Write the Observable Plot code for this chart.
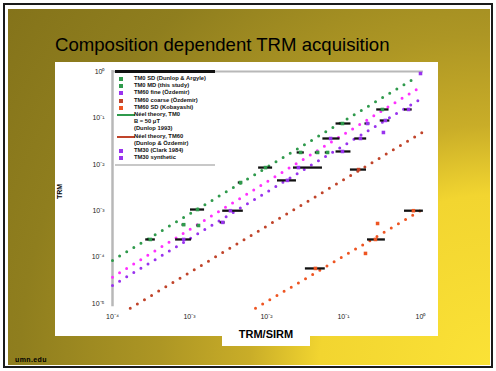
<!DOCTYPE html>
<html><head><meta charset="utf-8">
<script src="https://cdn.jsdelivr.net/npm/d3@7"></script>
<script src="https://cdn.jsdelivr.net/npm/@observablehq/plot@0.6"></script>
<style>
body{margin:0;width:496px;height:371px;background:#fff;position:relative;overflow:hidden;font-family:"Liberation Sans",Arial,sans-serif}
#frame{position:absolute;left:3px;top:3px;width:486px;height:361px;border:2px solid #1a1a1a}
#bg{position:absolute;left:8px;top:9px;width:482px;height:356px;
 background:radial-gradient(circle 600px at 100% 100%,#fbe236 0px,#f2d530 170px,#c9ad28 240px,#ad9624 330px,#8f7e1e 470px,#84731a 600px)}
#title{position:absolute;left:55px;top:34px;font-size:18.6px;color:#000;white-space:nowrap}
#panel{position:absolute;left:55px;top:62px;width:383px;height:274px;background:#fff}
#chart{position:absolute;left:55px;top:62px}
#xlabel{position:absolute;left:222px;top:326px;width:88px;height:20px;background:#fff;text-align:center;font-weight:bold;font-size:11px;line-height:16px}
#ylabel{position:absolute;left:56px;top:199px;transform:rotate(-90deg);transform-origin:0 0;font-size:7px;font-weight:bold;white-space:nowrap}
#footer{position:absolute;left:15px;top:356px;font-size:7px;font-weight:bold;letter-spacing:0.4px}
#legend{position:absolute;left:115px;top:70px;width:100px;height:89px;border-top:3px solid #111;border-bottom:2px solid #c8c8c8;font-size:5.8px;font-weight:bold;line-height:7.2px;padding-top:2px;box-sizing:content-box}
.row{position:relative;height:7.2px;white-space:nowrap;color:#111}
.row .t{position:absolute;left:19px;top:0}
.row .m{position:absolute;left:4px;top:2px;width:4px;height:4px}
.row .l{position:absolute;left:2px;top:3px;width:18px;height:2px}
</style></head><body>
<div id="frame"></div>
<div id="bg"></div>
<div id="title">Composition dependent TRM acquisition</div>
<div id="panel"></div>
<div id="chart"></div>
<div id="legend"></div>
<div id="xlabel">TRM/SIRM</div>
<div id="ylabel">TRM</div>
<div id="footer">umn.edu</div>
<script>
// tick values
const xTicks = [1e-4, 1e-3, 1e-2, 1e-1, 1];
const yTicks = [1e-5, 1e-4, 1e-3, 1e-2, 1e-1, 1];

// fitted lines (endpoints)
const greenLineX = [1e-4, 0.81];
const greenLineY = [8.5e-5, 0.69];
const magentaLineX = [1e-4, 0.97];
const magentaLineY = [3.7e-5, 0.45];
const purpleLineX = [1e-4, 0.93];
const purpleLineY = [2.45e-5, 0.237];
const brownLineX = [1.7e-4, 1.06];
const brownLineY = [7.9e-6, 0.049];
const orangeLineX = [7.2e-3, 1.0];
const orangeLineY = [7.9e-6, 1.0e-3];

// measured points: [x, y, xlo, xhi]
const greenPts = [
  [3.1e-4, 2.4e-4, 2.7e-4, 3.6e-4],
  [8.4e-4, 5.0e-4, 8.0e-4, 8.9e-4],
  [1.31e-3, 4.8e-4, 1.25e-3, 1.38e-3],
  [1.27e-3, 1.06e-3, 1.03e-3, 1.57e-3],
  [4.6e-3, 4.05e-3, 4.3e-3, 4.9e-3],
  [9.7e-3, 8.5e-3, 7.9e-3, 1.2e-2],
  [0.0277, 0.018, 0.025, 0.031],
  [0.046, 0.018, 0.043, 0.049],
  [0.062, 0.018, 0.058, 0.066],
  [0.097, 0.0757, 0.080, 0.125],
  [0.32, 0.152, 0.27, 0.39]
];
const purplePts = [
  [8.4e-4, 2.4e-4, 6.6e-4, 1.06e-3],
  [2.7e-3, 5.6e-4, 2.5e-3, 2.9e-3],
  [3.4e-3, 1.0e-3, 2.7e-3, 5.0e-3],
  [0.0187, 4.5e-3, 0.0139, 0.0245],
  [0.026, 8.5e-3, 0.0224, 0.0533],
  [0.097, 0.0189, 0.080, 0.125],
  [0.068, 0.036, 0.054, 0.090],
  [0.166, 0.036, 0.140, 0.200],
  [0.205, 0.0757, 0.19, 0.22],
  [0.35, 0.088, 0.30, 0.40],
  [0.33, 0.0485, 0.33, 0.33],
  [0.70, 0.152, 0.62, 0.78],
  [1.0, 0.905, 1.0, 1.0]
];
const brownPts = [
  [0.157, 7.7e-3, 0.123, 0.199]
];
const orangePts = [
  [0.0432, 5.7e-5, 0.032, 0.058],
  [0.193, 1.2e-4, 0.193, 0.193],
  [0.26, 2.4e-4, 0.205, 0.35],
  [0.277, 5.3e-4, 0.277, 0.277],
  [0.81, 1.0e-3, 0.62, 1.09]
];

// legend labels
const legendRows = [
  ["m", "#2f9a4c", "TM0 SD (Dunlop & Argyle)"],
  ["m", "#2f9a4c", "TM0 MD (this study)"],
  ["m", "#9933ee", "TM60 fine (Özdemir)"],
  ["m", "#c0442a", "TM60 coarse (Özdemir)"],
  ["m", "#ee5522", "TM60 SD (Kobayashi)"],
  ["l", "#2f9a4c", "Néel theory, TM0"],
  ["", "", "B = 50 μT"],
  ["", "", "(Dunlop 1993)"],
  ["l", "#c0442a", "Néel theory, TM60"],
  ["", "", "(Dunlop & Özdemir)"],
  ["m", "#9933ee", "TM30 (Clark 1984)"],
  ["m", "#9933ee", "TM30 synthetic"]
];

const colors = {green:"#2f9a4c", magenta:"#ff30ff", purple:"#9933ee", brown:"#c0442a", orange:"#ee5522"};
const lines = [
  ["green", greenLineX, greenLineY],
  ["magenta", magentaLineX, magentaLineY],
  ["purple", purpleLineX, purpleLineY],
  ["brown", brownLineX, brownLineY],
  ["orange", orangeLineX, orangeLineY]
];
const lineData = lines.flatMap(([k, xs, ys]) => xs.map((x, i) => ({k, x, y: ys[i]})));
const pts = [["green", greenPts], ["purple", purplePts], ["brown", brownPts], ["orange", orangePts]]
  .flatMap(([k, arr]) => arr.map(([x, y, lo, hi]) => ({k, x, y, lo, hi})));
const bars = pts.filter(d => d.hi > d.lo);

const sup = {"-":"⁻","0":"⁰","1":"¹","2":"²","3":"³","4":"⁴","5":"⁵"};
const fmt = v => "10" + String(Math.round(Math.log10(v))).replace(/./g, c => sup[c]);

const chart = Plot.plot({
  width: 383, height: 274,
  marginLeft: 57, marginTop: 9, marginRight: 18, marginBottom: 33,
  x: {type: "log", domain: [1e-4, 1]},
  y: {type: "log", domain: [1e-5, 1]},
  style: {background: "transparent", fontFamily: "Liberation Sans, Arial, sans-serif"},
  marks: [
    Plot.ruleX([1e-4], {y1: 1.05, y2: 8.5e-6, stroke: "#b8b8b8", strokeWidth: 2.5}),
    Plot.ruleY([1], {x1: 1e-4, x2: 1.09, stroke: "#b8b8b8", strokeWidth: 2}),
    Plot.axisX(xTicks, {tickSize: 0, tickPadding: 11, tickFormat: fmt, fontSize: 7, fill: "#222", label: null}),
    Plot.axisY(yTicks, {tickSize: 0, tickPadding: 8, tickFormat: fmt, fontSize: 7, fill: "#222", label: null}),
    Plot.line(lineData, {x: "x", y: "y", z: "k", stroke: d => colors[d.k], strokeWidth: 3, strokeDasharray: "0 8.3", strokeLinecap: "round"}),
    Plot.ruleY(bars, {y: "y", x1: "lo", x2: "hi", stroke: "#111", strokeWidth: 2.3}),
    Plot.dot(pts, {x: "x", y: "y", fill: d => colors[d.k], r: 2, symbol: "square"})
  ]
});
document.getElementById("chart").appendChild(chart);

const lg = document.getElementById("legend");
for (const [type, col, text] of legendRows) {
  const r = document.createElement("div");
  r.className = "row";
  if (type) {
    const m = document.createElement("div");
    m.className = type;
    m.style.background = col;
    r.appendChild(m);
  }
  const t = document.createElement("div");
  t.className = "t";
  t.textContent = text;
  r.appendChild(t);
  lg.appendChild(r);
}
</script>
</body></html>
